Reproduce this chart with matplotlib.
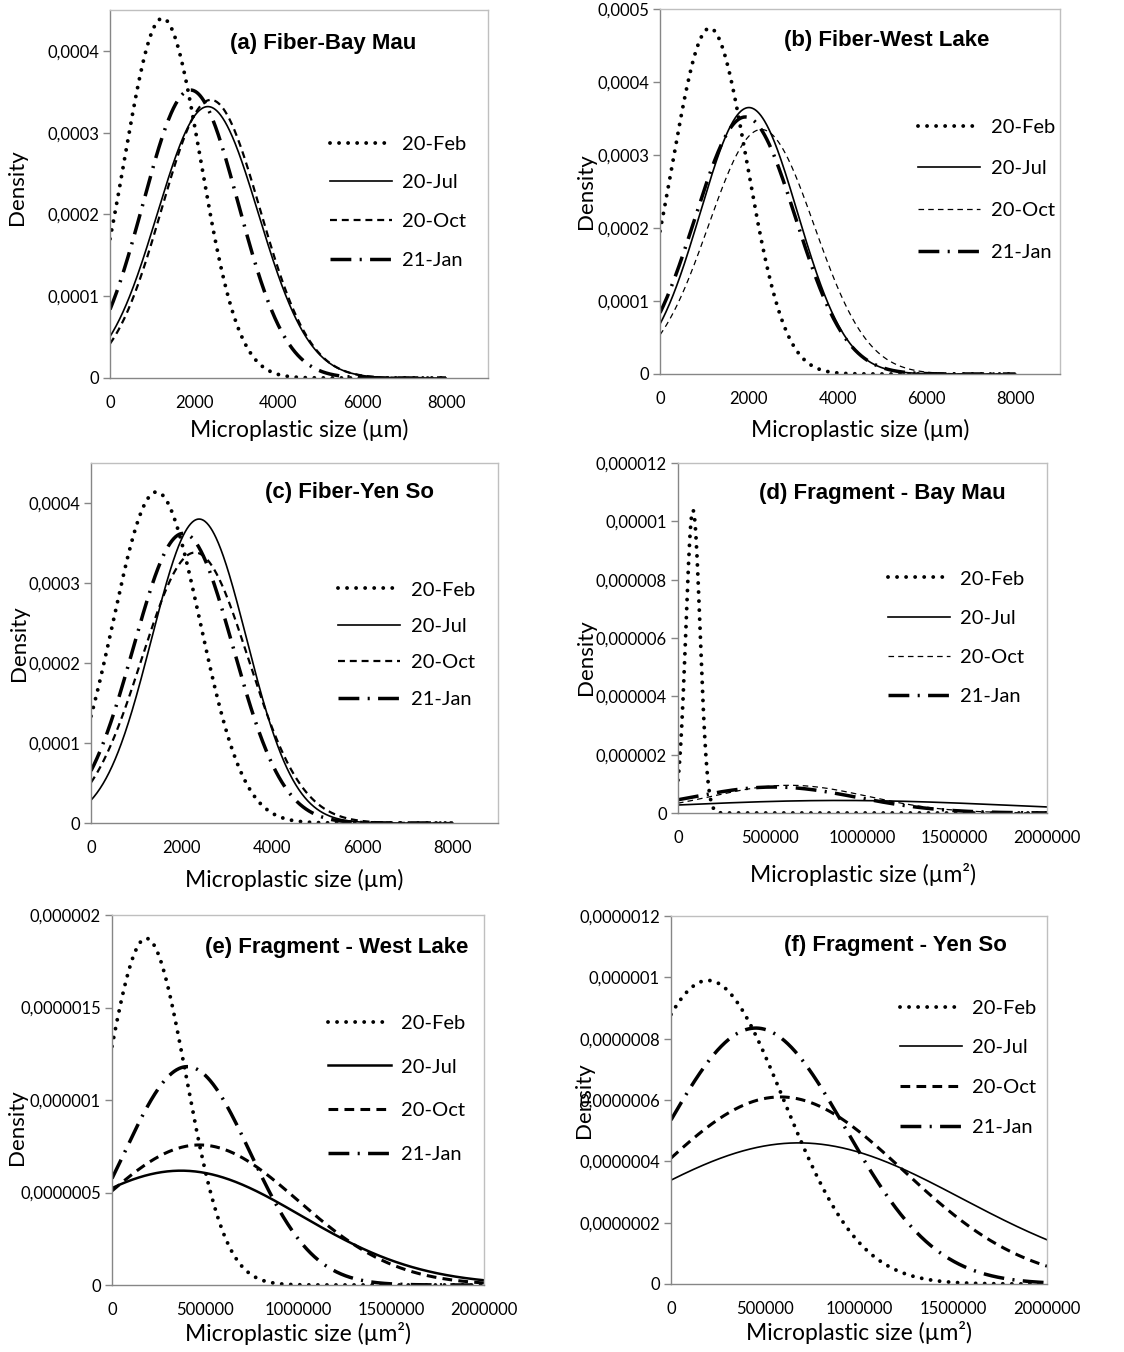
import matplotlib
matplotlib.use("Agg")

import matplotlib.pyplot as plt
import numpy as np

plt.rcParams.update({
    "font.family": "Lato",
    "lines.scale_dashes": False,
    "axes.linewidth": 1.0,
})

# normal-distribution parameters (mean, standard deviation)
SERIES = ["20-Feb", "20-Jul", "20-Oct", "21-Jan"]

TITLES = [
    "(a) Fiber-Bay Mau",
    "(b) Fiber-West Lake",
    "(c) Fiber-Yen So",
    "(d) Fragment - Bay Mau",
    "(e) Fragment - West Lake",
    "(f) Fragment - Yen So",
]

MEAN_A = [1250, 2330, 2400, 1920]
SD_A = [907, 1202, 1173, 1133]

MEAN_B = [1120, 2000, 2280, 1920]
SD_B = [842, 1093, 1191, 1133]

MEAN_C = [1450, 2390, 2300, 2040]
SD_C = [964, 1050, 1180, 1102]

MEAN_D = [81000, 880000, 605000, 520000]
SD_D = [38430, 928000, 420000, 448000]

MEAN_E = [184000, 371000, 470000, 405000]
SD_E = [212900, 645500, 527000, 338000]

MEAN_F = [196500, 679000, 582000, 451000]
SD_F = [403000, 867000, 654000, 478000]

MEANS = [MEAN_A, MEAN_B, MEAN_C, MEAN_D, MEAN_E, MEAN_F]
SDS = [SD_A, SD_B, SD_C, SD_D, SD_E, SD_F]

# x range of the drawn curves and axis limits
FIBER_XMAX = 8000
FRAG_XMAX = 2000000
XLIMS = [9000, 9000, 9000, 2000000, 2000000, 2000000]
XSTEPS = [2000, 2000, 2000, 500000, 500000, 500000]
YLIMS = [0.00045, 0.0005, 0.00045, 0.000012, 0.000002, 0.0000012]
YSTEPS = [0.0001, 0.0001, 0.0001, 0.000002, 0.0000005, 0.0000002]

XLABELS = [
    "Microplastic size (µm)",
    "Microplastic size (µm)",
    "Microplastic size (µm)",
    "Microplastic size (µm²)",
    "Microplastic size (µm²)",
    "Microplastic size (µm²)",
]

# ---- layout (pixel boxes: left, top, right, bottom) ----
W, H = 1124, 1352
BOXES = [
    (110, 10, 488, 378),
    (660, 9, 1060, 374),
    (91, 463, 498, 823),
    (678, 463, 1047, 813),
    (112, 915, 484, 1285),
    (671, 916, 1047, 1284),
]
TITLE_POS = [(0.563, 0.91), (0.567, 0.915), (0.634, 0.919),
             (0.553, 0.914), (0.605, 0.913), (0.596, 0.921)]
LEG_POS = [(0.582, 0.659), (0.645, 0.700), (0.607, 0.671),
           (0.569, 0.693), (0.581, 0.731), (0.609, 0.773)]
LEG_SPACING = [1.08, 1.22, 0.96, 1.10, 1.33, 1.13]
YLAB_POS = [(-0.246, 0.52), (-0.185, 0.5), (-0.177, 0.5),
            (-0.249, 0.446), (-0.255, 0.427), (-0.231, 0.5)]
XLAB_Y = [-0.141, -0.153, -0.158, -0.177, -0.130, -0.133]

OCT_STYLE = [
    (1.6, (5, 3.5)),
    (0.9, (4, 3)),
    (1.6, (5, 3.5)),
    (0.9, (4, 3)),
    (2.2, (7, 4.5)),
    (2.2, (7, 4.5)),
]
JUL_LW = [1.2, 1.2, 1.2, 1.2, 1.8, 1.2]


def fmt(v):
    s = f"{v:.7f}".rstrip("0").rstrip(".")
    return s.replace(".", ",")


def normal_pdf(x, mu, sd):
    return np.exp(-0.5 * ((x - mu) / sd) ** 2) / (sd * np.sqrt(2 * np.pi))


fig = plt.figure(figsize=(W / 100, H / 100), dpi=100)

for i in range(6):
    l, t, r, b = BOXES[i]
    ax = fig.add_axes([l / W, 1 - b / H, (r - l) / W, (b - t) / H])

    xmax = FIBER_XMAX if i < 3 else FRAG_XMAX
    x = np.linspace(0, xmax, 600)
    mu, sd = MEANS[i], SDS[i]

    ax.plot(x, normal_pdf(x, mu[0], sd[0]), color="black", lw=2.8,
            dashes=(0.01, 6.5), dash_capstyle="round", label=SERIES[0])
    ax.plot(x, normal_pdf(x, mu[1], sd[1]), color="black", lw=JUL_LW[i],
            label=SERIES[1])
    lw_oct, dash_oct = OCT_STYLE[i]
    ax.plot(x, normal_pdf(x, mu[2], sd[2]), color="black", lw=lw_oct,
            dashes=dash_oct, label=SERIES[2])
    ax.plot(x, normal_pdf(x, mu[3], sd[3]), color="black", lw=2.5,
            dashes=(15, 6, 1.5, 6), label=SERIES[3])

    ax.set_xlim(0, XLIMS[i])
    ax.set_ylim(0, YLIMS[i])
    xt = np.arange(0, xmax + 1, XSTEPS[i])
    ax.set_xticks(xt)
    ax.set_xticklabels([str(int(v)) for v in xt])
    yt = np.arange(0, YLIMS[i] + YSTEPS[i] / 2, YSTEPS[i])
    yt = yt[yt <= YLIMS[i] * 1.0001]
    ax.set_yticks(yt)
    ax.set_yticklabels([fmt(v) for v in yt])

    ax.tick_params(axis="x", length=0, pad=12, labelsize=12)
    ax.tick_params(axis="y", length=5, width=1, color="#868686", pad=3,
                   labelsize=12)
    for s in ax.spines.values():
        s.set_color("#bfbfbf")
    ax.spines["left"].set_color("#868686")
    ax.spines["bottom"].set_color("#868686")

    ax.text(TITLE_POS[i][0], TITLE_POS[i][1], TITLES[i], transform=ax.transAxes,
            ha="center", va="center", fontsize=16, fontweight="bold",
            family="Liberation Sans")

    ax.set_ylabel("Density", fontsize=16)
    ax.yaxis.set_label_coords(*YLAB_POS[i])
    ax.yaxis.label.set_va("center")
    ax.set_xlabel(XLABELS[i], fontsize=16.5)
    ax.xaxis.set_label_coords(0.5, XLAB_Y[i])
    ax.xaxis.label.set_va("center")

    ax.legend(loc="upper left", bbox_to_anchor=LEG_POS[i], frameon=False,
              fontsize=14.5, handlelength=3.1, handletextpad=0.5,
              borderpad=0, borderaxespad=0, labelspacing=LEG_SPACING[i])

fig.savefig("out.png", dpi=100)
